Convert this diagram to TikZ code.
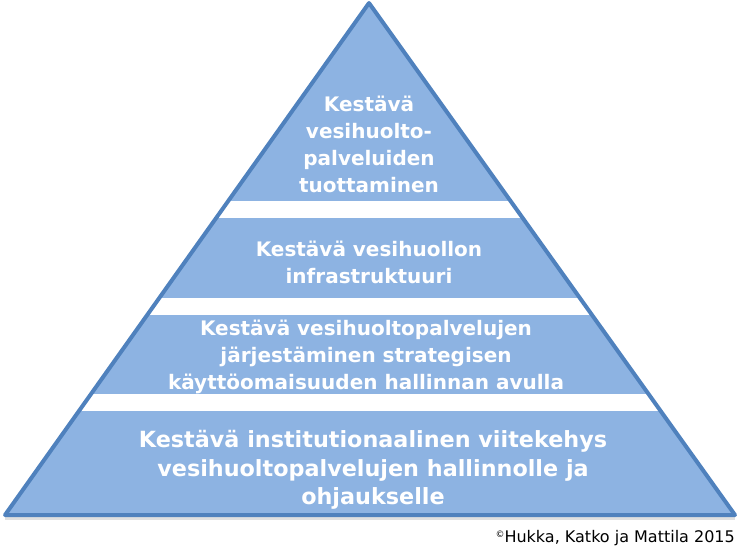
\documentclass[tikz,border=0pt]{standalone}
\usepackage{fontspec}
\setmainfont{DejaVu Sans}
\definecolor{pyrfill}{RGB}{141,179,226}
\definecolor{pyredge}{RGB}{79,129,189}

\begin{document}
\begin{tikzpicture}[x=1pt,y=-1pt]
        \tikzstyle{level}=[align=center,text=white,inner sep=0pt,font=\bfseries\fontsize{20}{27}\selectfont]
        \tikzstyle{base level}=[level,font=\bfseries\fontsize{22.3}{28.5}\selectfont]
        \tikzstyle{gap}=[fill=white]

        \useasboundingbox (0,0) rectangle (747,554);

        \coordinate (top) at (369,3);
        \coordinate (left) at (5,515);
        \coordinate (right) at (735,515);

        % faint shadow under the base
        \draw[black!12,line width=3pt] ([yshift=-3pt]left) -- ([yshift=-3pt]right);

        \fill[pyrfill] (top) -- (left) -- (right) -- cycle;
        \begin{scope}
                \clip (top) -- (left) -- (right) -- cycle;
                \fill[gap] (0,201) rectangle (747,218);
                \fill[gap] (0,298) rectangle (747,315);
                \fill[gap] (0,394) rectangle (747,411);
        \end{scope}
        \draw[pyredge,line width=4pt,line join=round] (top) -- (left) -- (right) -- cycle;

        \node[level](l1) at (369,144){Kestävä\\vesihuolto-\\palveluiden\\tuottaminen};
        \node[level](l2) at (369,262){Kestävä vesihuollon\\infrastruktuuri};
        \node[level](l3) at (366,357){Kestävä vesihuoltopalvelujen\\järjestäminen strategisen\\käyttöomaisuuden hallinnan avulla};
        \node[base level](l4) at (373,470){Kestävä institutionaalinen viitekehys\\vesihuoltopalvelujen hallinnolle ja\\ohjaukselle};

        \node[anchor=base east,inner sep=0pt,font=\fontsize{16}{18}\selectfont](credit) at (735,542){\raisebox{4.5pt}{\fontsize{9}{9}\selectfont ©}Hukka, Katko ja Mattila 2015};

    \end{tikzpicture}
\end{document}
